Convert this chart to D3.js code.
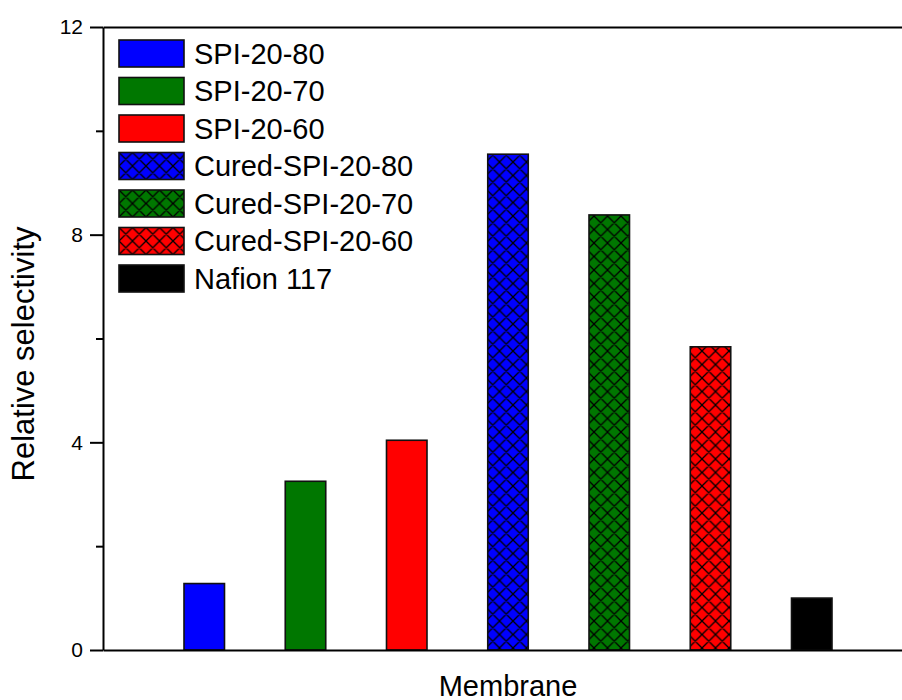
<!DOCTYPE html>
<html>
<head>
<meta charset="utf-8">
<script src="https://cdn.jsdelivr.net/npm/d3@7"></script>
<style>
  html, body { margin: 0; padding: 0; background: #fff; }
  svg { display: block; font-family: "Liberation Sans", Arial, sans-serif; }
  .ylab text { font-size: 21px; fill: #000; font-family: "Liberation Sans", Arial, sans-serif; }
</style>
</head>
<body>
<svg id="chart" width="902" height="700"></svg>
<script>
// membranes, in plot order
var membranes = ["SPI-20-80", "SPI-20-70", "SPI-20-60", "Cured-SPI-20-80", "Cured-SPI-20-70", "Cured-SPI-20-60", "Nafion 117"];
var selectivity = [1.28, 3.25, 4.04, 9.55, 8.38, 5.84, 1.0];
var fills = ["#0000ff", "#007700", "#ff0000", "#0000ff", "#007700", "#ff0000", "#000000"];
var hatched = [false, false, false, true, true, true, false];
var majorTicks = [0, 4, 8, 12];
var minorTicks = [2, 6, 10];

var svg = d3.select("#chart");
// note: "top" is reserved on window, so plot edges get their own names
var pLeft = 103, pRight = 913, pTop = 27, pBottom = 650;

var x = d3.scaleLinear().domain([0, membranes.length + 1]).range([pLeft, pRight]);
var y = d3.scaleLinear().domain([0, 12]).range([pBottom, pTop]);
var barW = x(0.4) - x(0);

// cross hatch patterns, one per colour
var defs = svg.append("defs");
var P = 13.5;
fills.forEach(function (c, i) {
  if (!hatched[i]) return;
  var p = defs.append("pattern")
    .attr("id", "hatch" + i)
    .attr("patternUnits", "userSpaceOnUse")
    .attr("width", P).attr("height", P);
  p.append("rect").attr("width", P).attr("height", P).attr("fill", c);
  p.append("path")
    .attr("d", "M-2,2 L2,-2 M0," + P + " L" + P + ",0 M" + (P - 2) + "," + (P + 2) + " L" + (P + 2) + "," + (P - 2) +
                " M-2," + (P - 2) + " L2," + (P + 2) + " M0,0 L" + P + "," + P + " M" + (P - 2) + ",-2 L" + (P + 2) + ",2")
    .attr("stroke", "#000").attr("stroke-width", 1.3).attr("fill", "none");
});
function fillOf(i) { return hatched[i] ? "url(#hatch" + i + ")" : fills[i]; }

// bars
svg.append("g").selectAll("rect")
  .data(selectivity)
  .join("rect")
  .attr("x", function (d, i) { return x(i + 1) - barW / 2; })
  .attr("y", function (d) { return y(d); })
  .attr("width", barW)
  .attr("height", function (d) { return y(0) - y(d); })
  .attr("fill", function (d, i) { return fillOf(i); })
  .attr("stroke", "#111")
  .attr("stroke-width", 1.6);

// axes
var yAxis = d3.axisLeft(y).tickValues(majorTicks).tickSize(13).tickSizeOuter(0).tickPadding(7);
svg.append("g").attr("class", "ylab")
  .attr("transform", "translate(" + pLeft + ",0)")
  .call(yAxis);
svg.append("g").attr("transform", "translate(" + pLeft + ",0)")
  .call(d3.axisLeft(y).tickValues(minorTicks).tickSize(7).tickSizeOuter(0).tickFormat(""))
  .select(".domain").remove();

svg.append("g").attr("transform", "translate(0," + pBottom + ")")
  .call(d3.axisBottom(x).tickValues([]).tickSizeOuter(0));
svg.append("g").attr("transform", "translate(0," + pTop + ")")
  .call(d3.axisTop(x).tickValues([]).tickSizeOuter(0));

svg.selectAll(".domain, .tick line").attr("stroke", "#000").attr("stroke-width", 2);

// axis titles
svg.append("text")
  .attr("x", (pLeft + pRight) / 2).attr("y", 696)
  .attr("text-anchor", "middle").attr("font-size", 29)
  .text("Membrane");
svg.append("text")
  .attr("transform", "translate(34,354) rotate(-90)")
  .attr("text-anchor", "middle").attr("font-size", 31)
  .text("Relative selectivity");

// legend
var lg = svg.append("g").attr("transform", "translate(119,40)");
var row = lg.selectAll("g").data(membranes).join("g")
  .attr("transform", function (d, i) { return "translate(0," + (i * 37.5) + ")"; });
row.append("rect")
  .attr("width", 65).attr("height", 27)
  .attr("fill", function (d, i) { return fillOf(i); })
  .attr("stroke", "#111").attr("stroke-width", 1.6);
row.append("text")
  .attr("x", 75).attr("y", 13.5).attr("dy", "0.35em")
  .attr("font-size", 29)
  .text(function (d) { return d; });
</script>
</body>
</html>
